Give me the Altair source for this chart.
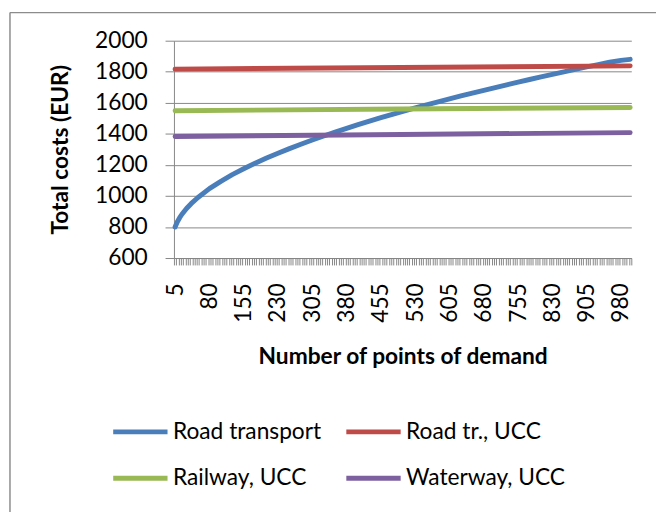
import altair as alt
import pandas as pd

# categories on the x axis (number of points of demand)
categories = list(range(5, 1001, 5))

series_names = ["Road transport", "Road tr., UCC", "Railway, UCC", "Waterway, UCC"]
colors = ["#4A7EBB", "#BE4B48", "#98B954", "#7D60A0"]

# Road transport
road_x = [5, 10, 15, 20, 30, 40, 55, 80, 105, 130, 155, 180, 205, 230, 255, 280,
          305, 330, 355, 380, 405, 430, 455, 480, 505, 530, 555, 580, 605, 630,
          655, 680, 705, 730, 755, 780, 805, 830, 855, 880, 905, 930, 955, 980, 1000]
road_y = [800, 834, 860, 882, 919, 950, 990, 1047, 1094, 1137, 1175, 1211, 1244, 1275,
          1305, 1333, 1360, 1386, 1411, 1435, 1459, 1482, 1504, 1526, 1547, 1567,
          1587, 1606, 1625, 1644, 1662, 1680, 1698, 1716, 1733, 1750, 1767, 1783,
          1799, 1815, 1831, 1846, 1861, 1873, 1880]

# UCC scenarios (almost flat)
ucc_x = [5, 500, 1000]
road_ucc_y = [1817, 1828, 1838]
rail_ucc_y = [1549, 1560, 1570]
water_ucc_y = [1383, 1396, 1408]

rows = []
for x, y in zip(road_x, road_y):
    rows.append({"n": x, "v": y, "s": series_names[0]})
for name, ys in zip(series_names[1:], [road_ucc_y, rail_ucc_y, water_ucc_y]):
    for x, y in zip(ucc_x, ys):
        rows.append({"n": x, "v": y, "s": name})
df = pd.DataFrame(rows)

FONT = "Lato"

lines = alt.Chart(df).mark_line(strokeWidth=5, strokeCap="round", strokeJoin="round").encode(
    x=alt.X(
        "n:O",
        bandPosition=0.5,
        scale=alt.Scale(type="band", domain=categories, paddingInner=0, paddingOuter=0),
        axis=alt.Axis(
            title="Number of points of demand",
            labelExpr="datum.value % 75 == 5 ? datum.label : ''",
            labelAngle=-90,
            labelOverlap=False,
            tickBand="extent",
            tickSize=7,
            tickColor="#868686",
            domainColor="#868686",
            labelPadding=18,
            labelFontSize=23,
            labelColor="#000000",
            titleFontSize=23,
            titleFontWeight="bold",
            titleColor="#000000",
            titlePadding=24,
            grid=False,
        ),
    ),
    y=alt.Y(
        "v:Q",
        scale=alt.Scale(domain=[600, 2000], nice=False, zero=False),
        axis=alt.Axis(
            title="Total costs (EUR)",
            values=list(range(600, 2001, 200)),
            format="d",
            tickSize=9,
            tickColor="#868686",
            domainColor="#868686",
            gridColor="#868686",
            gridWidth=1,
            labelPadding=18,
            labelFontSize=23,
            labelColor="#000000",
            titleFontSize=23,
            titleFontWeight="bold",
            titleColor="#000000",
            titlePadding=22,
        ),
    ),
    color=alt.Color(
        "s:N",
        scale=alt.Scale(domain=series_names, range=colors),
        legend=alt.Legend(
            orient="none",
            legendX=-64,
            legendY=366,
            columns=2,
            direction="horizontal",
            title=None,
            symbolType="stroke",
            symbolSize=3025,
            symbolStrokeWidth=5,
            labelFontSize=23,
            labelColor="#000000",
            labelLimit=400,
            columnPadding=14,
            rowPadding=5,
            labelOffset=3,
        ),
    ),
    order=alt.Order("n:Q"),
)

frame_df = pd.DataFrame({"k": [0]})
left_border = alt.Chart(frame_df).mark_rule(color="#8c8c8c", strokeWidth=1.5).encode(
    x=alt.value(-166), y=alt.value(-28.5), y2=alt.value(500)
)
top_border = alt.Chart(frame_df).mark_rule(color="#8c8c8c", strokeWidth=1.2).encode(
    x=alt.value(-166), x2=alt.value(500), y=alt.value(-28.5)
)

chart = alt.layer(lines, left_border, top_border).properties(
    width=463,
    height=220,
    autosize=alt.AutoSizeParams(type="none"),
    padding={"left": 168, "top": 30, "right": 25, "bottom": 254},
).configure(font=FONT).configure_view(stroke=None)

chart.save("out.html", embed_options={"renderer": "svg", "actions": False})
